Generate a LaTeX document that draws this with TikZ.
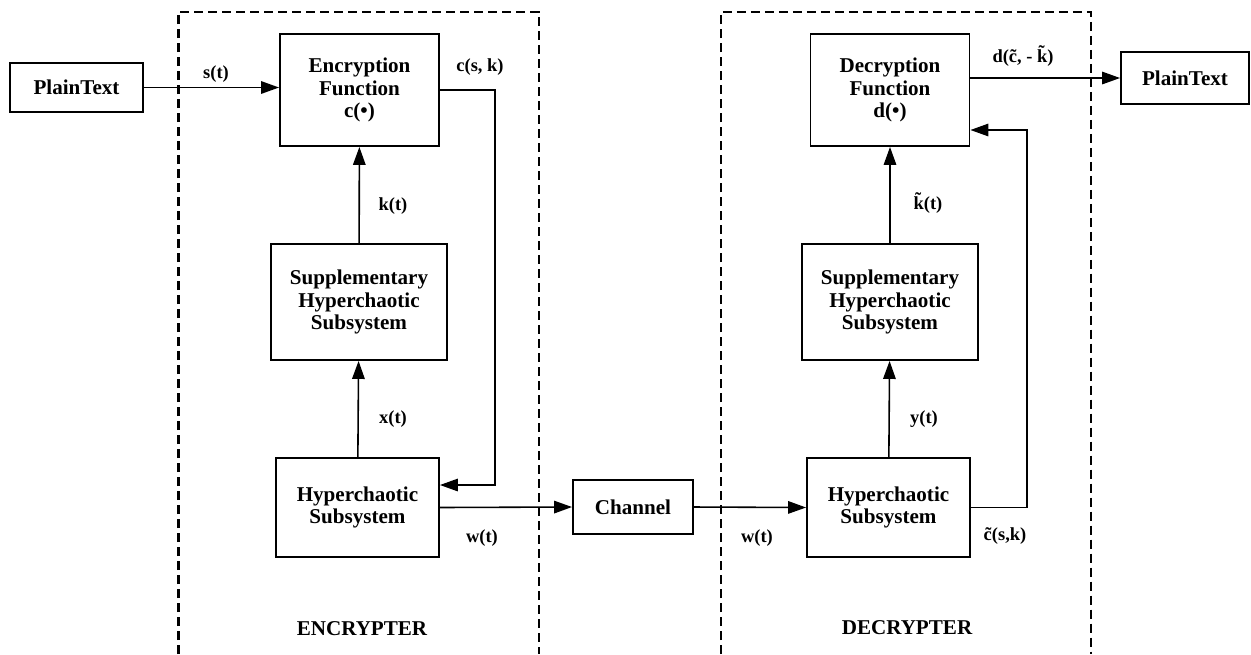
\documentclass[tikz,border=0pt]{standalone}
\usepackage{fontspec}
\setmainfont{Liberation Serif}
\usetikzlibrary{arrows.meta}
\tikzset{
  blk/.style={draw, line width=1.1pt, align=center, inner sep=2pt,
    font=\fontsize{12}{13}\selectfont\bfseries},
  sig/.style={font=\fontsize{10.5}{12}\selectfont\bfseries, inner sep=1pt},
  wire/.style={line width=0.9pt},
  frame/.style={line width=1.5pt, dash pattern=on 0.18cm off 0.1cm},
}
\begin{document}
\begin{tikzpicture}[>={Triangle[length=0.36cm,width=0.25cm]}, x=0.02cm, y=-0.02cm]
        \useasboundingbox (0,0) rectangle (1251,654);
        % encrypter and decrypter frames
        \draw[frame] (178.5,654) -- (178.5,12) -- (539,12) -- (539,654);
        \draw[frame] (721,654) -- (721,12) -- (1091,12) -- (1091,654);
        % blocks
        \node[blk, minimum width=2.66cm, minimum height=0.98cm] (ptIn) at (76.5,87.5) {PlainText};
        \node[blk, minimum width=3.18cm, minimum height=2.24cm] (enc) at (359.5,90) {Encryption\\Function\\c(\textbullet)};
        \node[blk, minimum width=3.52cm, minimum height=2.32cm] (supE) at (359,302) {Supplementary\\Hyperchaotic\\Subsystem};
        \node[blk, minimum width=3.26cm, minimum height=1.98cm] (hypE) at (357.5,507.5) {Hyperchaotic\\Subsystem};
        \node[blk, minimum width=2.4cm, minimum height=1.08cm] (chan) at (633,507) {Channel};
        \node[blk, minimum width=3.26cm, minimum height=1.98cm] (hypD) at (888.5,507.5) {Hyperchaotic\\Subsystem};
        \node[blk, minimum width=3.52cm, minimum height=2.32cm] (supD) at (890,302) {Supplementary\\Hyperchaotic\\Subsystem};
        \node[blk, minimum width=3.18cm, minimum height=2.24cm] (dec) at (890,90) {Decryption\\Function\\d(\textbullet)};
        \node[blk, minimum width=2.56cm, minimum height=1.04cm] (ptOut) at (1185,78) {PlainText};
        % connectors
        \draw[wire,->] (ptIn.east) -- (ptIn.east -| enc.west);
        \draw[wire,->] (supE) -- (enc);
        \draw[wire,->] (hypE) -- (supE);
        \draw[wire,->] (enc.east) -- ++(55,0) |- ([yshift=0.45cm]hypE.east);
        \draw[wire,->] (hypE.east) -- (chan.west);
        \draw[wire,->] (chan.east) -- (hypD.west);
        \draw[wire,->] (hypD) -- (supD);
        \draw[wire,->] (supD) -- (dec);
        \draw[wire,->] (hypD.east) -- ++(56,0) |- ([yshift=-0.8cm]dec.east);
        \draw[wire,->] (dec.east |- ptOut.west) -- (ptOut.west);
        % signal labels
        \node[sig] (lbS) at (216,74) {s(t)};
        \node[sig] (lbC) at (480,67) {c(s, k)};
        \node[sig] (lbK) at (393,206) {k(t)};
        \node[sig] (lbX) at (393,419) {x(t)};
        \node[sig] (lbWE) at (482,538) {w(t)};
        \node[sig] (lbWD) at (757,538) {w(t)};
        \node[sig] (lbY) at (924,419) {y(t)};
        \node[sig] (lbKt) at (928,203) {\~k(t)};
        \node[sig] (lbCt) at (1005,536) {\~c(s,k)};
        \node[sig] (lbD) at (1023,56) {d(\~c, - \~k)};
        % frame titles
        \node[font=\fontsize{12}{13}\selectfont\bfseries] (encTitle) at (362,629) {ENCRYPTER};
        \node[font=\fontsize{12}{13}\selectfont\bfseries] (decTitle) at (907,628) {DECRYPTER};
    \end{tikzpicture}
\end{document}
